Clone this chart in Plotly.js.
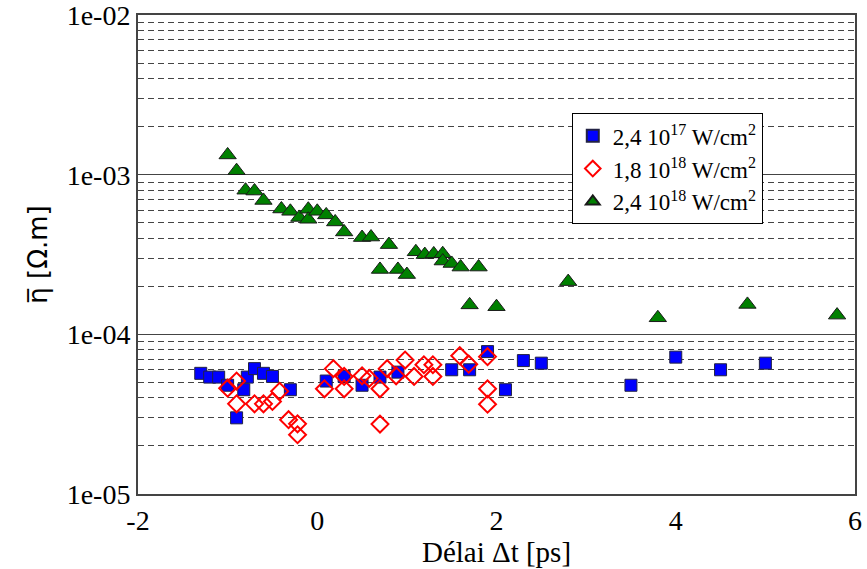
<!DOCTYPE html>
<html><head><meta charset="utf-8">
<script src="https://cdn.plot.ly/plotly-3.0.1.min.js"></script>
<style>html,body{margin:0;padding:0;background:#fff}#c{width:867px;height:569px}</style>
</head><body><div id="c"></div>
<script>
// Series 1: 2,4 10^17 W/cm2 (blue squares)
const x1 = [-1.3,-1.2,-1.1,-1.0,-0.9,-0.82,-0.78,-0.7,-0.6,-0.5,-0.3,0.1,0.3,0.5,0.7,0.9,1.5,1.7,1.9,2.1,2.3,2.5,3.5,4.0,4.5,5.0];
const y1 = [5.7e-5,5.4e-5,5.4e-5,4.8e-5,3.0e-5,4.5e-5,5.4e-5,6.1e-5,5.7e-5,5.45e-5,4.5e-5,5.1e-5,5.45e-5,4.8e-5,5.4e-5,5.8e-5,6.0e-5,6.0e-5,7.8e-5,4.5e-5,6.85e-5,6.6e-5,4.8e-5,7.2e-5,6.0e-5,6.6e-5];
// Series 2: 1,8 10^18 W/cm2 (red open diamonds)
const x2 = [-1.0,-0.9,-0.9,-0.7,-0.6,-0.5,-0.42,-0.32,-0.22,-0.22,0.08,0.18,0.3,0.3,0.5,0.58,0.7,0.7,0.78,0.88,0.98,1.08,1.19,1.29,1.29,1.59,1.69,1.9,1.9,1.9];
const y2 = [4.6e-5,5.1e-5,3.67e-5,3.67e-5,3.67e-5,3.8e-5,4.4e-5,2.92e-5,2.75e-5,2.35e-5,4.56e-5,6.1e-5,5.45e-5,4.56e-5,5.5e-5,5.3e-5,4.56e-5,2.74e-5,6.1e-5,5.5e-5,6.9e-5,5.45e-5,6.45e-5,6.45e-5,5.45e-5,7.35e-5,6.5e-5,7.25e-5,4.56e-5,3.65e-5];
// Series 3: 2,4 10^18 W/cm2 (green triangles)
const x3 = [-1.0,-0.9,-0.8,-0.7,-0.6,-0.4,-0.3,-0.2,-0.1,-0.1,0.0,0.1,0.2,0.3,0.5,0.6,0.7,0.8,0.9,1.0,1.1,1.2,1.3,1.4,1.4,1.5,1.6,1.7,1.8,2.0,2.8,3.8,4.8,5.8];
const y3 = [1.33e-3,1.06e-3,8.0e-4,7.9e-4,6.9e-4,6.1e-4,5.9e-4,5.4e-4,6.08e-4,5.26e-4,5.9e-4,5.6e-4,5.06e-4,4.38e-4,4.04e-4,4.07e-4,2.55e-4,3.65e-4,2.55e-4,2.37e-4,3.29e-4,3.16e-4,3.19e-4,3.2e-4,2.88e-4,2.78e-4,2.64e-4,1.53e-4,2.64e-4,1.49e-4,2.14e-4,1.27e-4,1.54e-4,1.32e-4];

const names = ['2,4 10<sup>17</sup> W/cm<sup>2</sup>','1,8 10<sup>18</sup> W/cm<sup>2</sup>','2,4 10<sup>18</sup> W/cm<sup>2</sup>'];
const yTickVals = [1e-5,1e-4,1e-3,1e-2];
const yTickText = ['1e-05','1e-04','1e-03','1e-02'];
const xTickVals = [-2,0,2,4,6];

const font = 'Liberation Serif, Times New Roman, serif';
const traces = [
 {x:x1,y:y1,name:names[0],mode:'markers',type:'scatter',
  marker:{symbol:'square',size:12,color:'#0000ff',line:{color:'#222244',width:1}}},
 {x:x2,y:y2,name:names[1],mode:'markers',type:'scatter',
  marker:{symbol:'diamond-open',size:13,color:'#ff0000',line:{color:'#ff0000',width:2}}},
 {x:x3,y:y3,name:names[2],mode:'markers',type:'scatter',
  marker:{symbol:'triangle-up',size:15,color:'#008000',line:{color:'#1a1a1a',width:1}}}
];
const layout = {
 width:867,height:569,
 margin:{l:138,r:12,t:15,b:75},
 paper_bgcolor:'#fff',plot_bgcolor:'#fff',
 font:{family:font,size:26,color:'#000'},
 showlegend:true,
 legend:{x:0.605,y:0.795,xanchor:'left',yanchor:'top',bgcolor:'#fff',bordercolor:'#000',borderwidth:1,
   font:{family:font,size:23},itemsizing:'constant',tracegroupgap:0},
 xaxis:{range:[-2,6],tickvals:xTickVals,ticktext:xTickVals.map(String),showgrid:false,zeroline:false,
   showline:true,mirror:true,linecolor:'#444',linewidth:2,ticks:'',
   title:{text:'Délai Δt [ps]',font:{family:font,size:29},standoff:2},tickfont:{family:font,size:28}},
 yaxis:{type:'log',range:[-5,-1.9995],tickvals:yTickVals,ticktext:yTickText,ticklabeloverflow:'allow',
   showgrid:true,gridcolor:'#444',gridwidth:1.5,zeroline:false,
   showline:true,mirror:true,linecolor:'#444',linewidth:2,ticks:'',
   minor:{dtick:'D1',showgrid:true,gridcolor:'#444',griddash:'6px,4px',gridwidth:1},
   title:{text:'η\u0305 [Ω.m]',font:{family:'DejaVu Sans',size:26},standoff:12},tickfont:{family:font,size:28}}
};
Plotly.newPlot('c',traces,layout,{displayModeBar:false,staticPlot:true});
</script></body></html>
